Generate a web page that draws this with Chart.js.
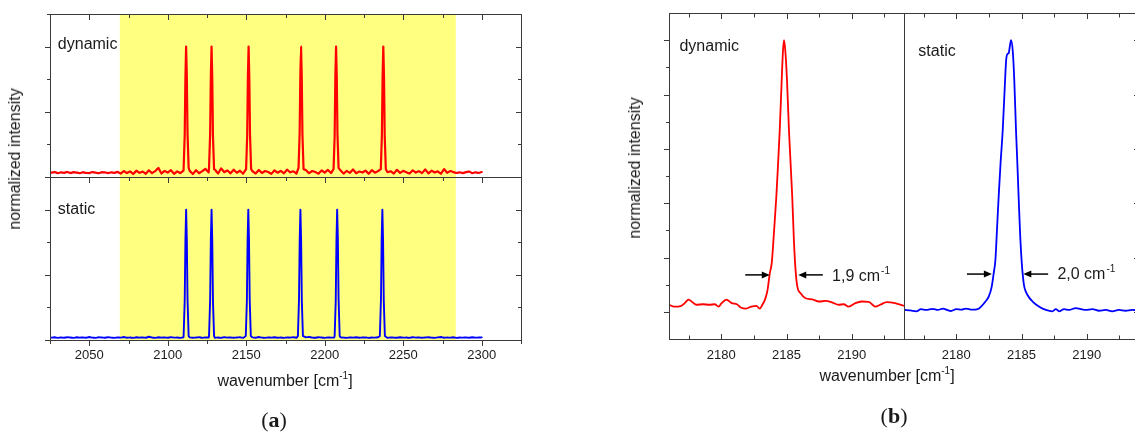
<!DOCTYPE html>
<html><head><meta charset="utf-8">
<script src="https://cdn.jsdelivr.net/npm/chart.js@4.4.1/dist/chart.umd.min.js"></script>
<style>
html,body{margin:0;padding:0;background:#fff;width:1135px;height:432px;overflow:hidden;position:relative;font-family:"Liberation Sans",Arial,sans-serif;color:#1a1a1a}
canvas{position:absolute}
.t{position:absolute;white-space:nowrap;font-size:16px;line-height:1}
.rot{transform:translate(-50%,-50%) rotate(-90deg)}
.ctr{transform:translate(-50%,-50%)}
sup{font-size:10px;vertical-align:0;position:relative;top:-7px}
.pl{font-family:"Liberation Serif","DejaVu Serif",serif;font-size:22px}
</style></head>
<body>
<canvas id="ca" width="560" height="400" style="left:0;top:0"></canvas>
<canvas id="cb" width="520" height="400" style="left:620px;top:0"></canvas>
<div class="t rot" style="left:15px;top:159px">normalized intensity</div>
<div class="t rot" style="left:635px;top:168px">normalized intensity</div>
<div class="t ctr" style="left:285px;top:381px">wavenumber [cm<sup>-1</sup>]</div>
<div class="t ctr" style="left:887px;top:376px">wavenumber [cm<sup>-1</sup>]</div>
<div class="t ctr pl" style="left:274px;top:420px">(<b>a</b>)</div>
<div class="t ctr pl" style="left:894px;top:416px">(<b>b</b>)</div>
<script>
// ---------- panel (a) data ----------
const aXTicks = [2025,2050,2075,2100,2125,2150,2175,2200,2225,2250,2275,2300,2325];
const aXLabels = [2050,2100,2150,2200,2250,2300];
const aYTicks = [0,0.25,0.5,0.75,1.0,1.25];
const aYMajor = [0,0.5,1.0];
const bandStart = 2069.5, bandEnd = 2283.5;
const baseStart = 2026, baseStep = 2;
const dynBase = [
 .033,.038,.029,.036,.032,.039,.030,.037,.034,.029,
 .037,.031,.030,.038,.033,.029,.037,.035,.030,.036,
 .031,.040,.026,.046,.030,.043,.023,.048,.032,.041,
 .025,.051,.030,.045,.070,.027,.047,.034,.053,.024,
 .043,.030,.049,.040,.047,.023,.052,.029,.045,.062,
 .034,.041,.058,.026,.066,.037,.050,.028,.056,.033,
 .048,.025,.052,.036,.044,.027,.054,.031,.046,.038,
 .024,.051,.033,.047,.028,.056,.036,.044,.026,.040,
 .033,.053,.029,.046,.038,.025,.050,.034,.055,.030,
 .044,.038,.051,.026,.047,.032,.058,.029,.042,.035,
 .049,.024,.053,.033,.046,.028,.052,.037,.044,.027,
 .055,.031,.047,.037,.026,.051,.034,.045,.030,.058,
 .028,.048,.035,.043,.025,.061,.032,.046,.037,.031,
 .036,.030,.037,.042,.029,.036,.031,.038];
const stBase = [
 .018,.021,.016,.020,.017,.022,.019,.016,.021,.018,
 .020,.017,.023,.018,.016,.021,.019,.017,.022,.018,
 .016,.020,.018,.023,.017,.019,.016,.021,.018,.020,
 .017,.025,.019,.016,.021,.018,.020,.017,.022,.018,
 .019,.016,.021,.018,.020,.017,.019,.022,.016,.020,
 .018,.021,.017,.019,.016,.022,.018,.020,.017,.019,
 .021,.016,.019,.018,.020,.017,.023,.018,.016,.020,
 .018,.021,.017,.019,.016,.020,.018,.022,.017,.019,
 .016,.020,.024,.018,.017,.021,.019,.016,.020,.018,
 .019,.017,.021,.018,.016,.020,.018,.021,.017,.019,
 .020,.016,.019,.018,.021,.017,.019,.016,.020,.018,
 .017,.021,.018,.019,.016,.022,.018,.020,.017,.019,
 .021,.018,.016,.020,.023,.017,.019,.018,.021,.016,
 .019,.018,.020,.017,.021,.018,.019,.020];
const dynPeaks = [
 [[2110.1,.06],[2110.8,.32],[2111.25,.76],[2111.7,1.0],[2112.15,.77],[2112.6,.33],[2113.3,.07]],
 [[2126.3,.07],[2127.0,.33],[2127.45,.77],[2127.9,1.0],[2128.35,.76],[2128.8,.31],[2129.5,.06]],
 [[2149.9,.06],[2150.6,.32],[2151.05,.77],[2151.5,1.0],[2151.95,.76],[2152.4,.32],[2153.1,.06]],
 [[2183.3,.07],[2184.0,.33],[2184.45,.77],[2184.9,1.0],[2185.35,.77],[2185.8,.32],[2186.5,.06]],
 [[2205.6,.06],[2206.3,.31],[2206.75,.76],[2207.2,1.0],[2207.65,.77],[2208.1,.33],[2208.8,.07]],
 [[2235.7,.06],[2236.4,.32],[2236.85,.77],[2237.3,1.0],[2237.75,.76],[2238.2,.31],[2238.9,.06]]];
const stPeaks = [
 [[2110.1,.03],[2110.8,.30],[2111.25,.76],[2111.7,1.0],[2112.15,.77],[2112.6,.31],[2113.3,.03]],
 [[2126.3,.03],[2127.0,.31],[2127.45,.77],[2127.9,1.0],[2128.35,.76],[2128.8,.30],[2129.5,.03]],
 [[2149.7,.03],[2150.4,.30],[2150.85,.76],[2151.3,1.0],[2151.75,.77],[2152.2,.31],[2152.9,.03]],
 [[2182.9,.03],[2183.6,.31],[2184.05,.77],[2184.5,1.0],[2184.95,.76],[2185.4,.30],[2186.1,.03]],
 [[2206.3,.03],[2207.0,.30],[2207.45,.76],[2207.9,1.0],[2208.35,.78],[2208.8,.32],[2209.5,.03]],
 [[2235.1,.03],[2235.8,.31],[2236.25,.77],[2236.7,1.0],[2237.15,.76],[2237.6,.30],[2238.3,.03]]];

// ---------- panel (b) data ----------
const bXTicks = [2177.5,2180,2182.5,2185,2187.5,2190,2192.5];
const bXLabels = [2180,2185,2190];
const bYTicks = [0,0.1,0.2,0.3,0.4,0.5,0.6,0.7,0.8,0.9,1.0];
const bDynX = [2176.0,2176.4,2176.9,2177.2,2177.5,2177.8,2178.1,2178.6,2179.1,2179.5,2179.8,2180.0,2180.4,2180.8,2181.2,2181.5,2181.9,2182.3,2182.7,2182.95,2183.15,2183.35,2183.55,2183.72,2183.87,2184.05,2184.22,2184.36,2184.48,2184.63,2184.73,2184.81,2184.91,2185.04,2185.19,2185.32,2185.44,2185.57,2185.70,2185.83,2186.08,2186.46,2186.97,2187.48,2187.99,2188.49,2189.0,2189.38,2189.76,2190.27,2190.77,2191.29,2191.8,2192.18,2192.68,2193.32,2194.0];
const bDynY = [.026,.019,.021,.032,.045,.035,.026,.028,.026,.028,.019,.030,.045,.032,.028,.016,.012,.019,.022,.012,.026,.045,.081,.142,.18,.30,.423,.55,.667,.85,.96,1.0,.96,.85,.667,.54,.423,.26,.15,.093,.068,.050,.046,.038,.040,.035,.026,.028,.019,.032,.038,.037,.019,.026,.036,.032,.022];
const bStX = [2176.05,2176.5,2176.95,2177.3,2177.7,2178.2,2178.6,2178.98,2179.3,2179.6,2180.0,2180.4,2180.75,2181.2,2181.65,2181.9,2182.24,2182.49,2182.72,2182.87,2183.0,2183.12,2183.25,2183.4,2183.56,2183.74,2183.82,2183.92,2184.02,2184.1,2184.2,2184.33,2184.45,2184.58,2184.68,2184.78,2184.9,2185.02,2185.12,2185.21,2185.46,2185.85,2186.36,2186.87,2187.37,2187.63,2187.88,2188.26,2188.64,2189.16,2189.54,2189.92,2190.43,2190.94,2191.45,2191.95,2192.46,2192.97,2193.48,2194.0];
const bStY = [.007,.005,.002,.010,.007,.011,.007,.012,.007,.003,.010,.008,.012,.008,.010,.019,.038,.056,.093,.142,.19,.30,.423,.55,.667,.85,.924,.949,.952,.975,1.0,.96,.85,.667,.55,.423,.28,.18,.125,.093,.062,.038,.019,.007,.002,.010,.002,.010,.007,.014,.010,.007,.010,.004,.007,.002,.007,.004,.007,.005];
const fwhm = {dyn:{text:'1,9', from:[2181.84,2183.72], to:[2187.78,2185.90], y:0.136, labelX:2188.49, labelY:0.115},
              st:{text:'2,0', from:[2180.82,2182.73], to:[2187.04,2185.14], y:0.139, labelX:2187.75, labelY:0.12}};

// ---------- helpers ----------
function mergeSeries(start, step, base, peaks){
  const pts = [];
  base.forEach((v,i)=>{ const x = start + i*step;
    if(!peaks.some(p => x >= p[0][0] && x <= p[p.length-1][0])) pts.push({x, y:v}); });
  peaks.forEach(p => p.forEach(([x,y]) => pts.push({x, y})));
  pts.sort((a,b)=>a.x-b.x);
  return pts;
}
const zip = (xs, ys) => xs.map((x,i)=>({x, y:ys[i]}));
const AX = '#3a3a3a';
const FONT = '"Liberation Sans", Arial, sans-serif';
Chart.defaults.font.family = FONT;
function seg(ctx,x1,y1,x2,y2){ ctx.beginPath(); ctx.moveTo(x1,y1); ctx.lineTo(x2,y2); ctx.stroke(); }
const cr = v => Math.round(v)+0.5;
const setTicks = arr => s => { s.ticks = arr.map(v=>({value:v})); };

// ---------- chart (a) ----------
const bandPlugin = { id:'band', beforeDatasetsDraw(chart){
  const {ctx, chartArea:ca, scales:{x}} = chart;
  ctx.save(); ctx.fillStyle = '#ffff80';
  const x1 = x.getPixelForValue(bandStart), x2 = x.getPixelForValue(bandEnd);
  ctx.fillRect(x1, ca.top, x2-x1, ca.height); ctx.restore(); } };
const frameA = { id:'frameA', afterDatasetsDraw(chart){
  const {ctx, chartArea:ca, scales:{x, yTop, yBot}} = chart;
  ctx.save(); ctx.strokeStyle = AX; ctx.lineWidth = 1;
  const L = cr(ca.left), R = cr(ca.right), T = cr(ca.top), B = cr(ca.bottom);
  const D = cr(yTop.getPixelForValue(0));
  ctx.strokeRect(L, T, R-L, B-T); seg(ctx, L, D, R, D);
  x.ticks.forEach(t => { const px = cr(x.getPixelForValue(t.value)); const len = aXLabels.includes(t.value) ? 5.5 : 3.5;
    seg(ctx, px, T, px, T+len); seg(ctx, px, D, px, D+len); seg(ctx, px, B, px, B+len); });
  [yTop, yBot].forEach(s => s.ticks.forEach(t => { const py = cr(s.getPixelForValue(t.value)); const len = aYMajor.includes(t.value) ? 5.5 : 3.5;
    seg(ctx, L-len, py, L, py); seg(ctx, R-len, py, R, py); }));
  ctx.fillStyle = '#1a1a1a'; ctx.font = '16px '+FONT; ctx.textBaseline = 'alphabetic';
  ctx.fillText('dynamic', x.getPixelForValue(2030), yTop.getPixelForValue(0.98));
  ctx.fillText('static', x.getPixelForValue(2030), yBot.getPixelForValue(0.97));
  ctx.restore(); } };
const yOptsA = () => ({ type:'linear', position:'left', stack:'a', stackWeight:1, min:0, max:1.25,
  afterBuildTicks:setTicks(aYTicks), afterFit(s){ s.width = 0; },
  ticks:{display:false}, grid:{display:false, drawTicks:false}, border:{display:false} });
new Chart(document.getElementById('ca'), {
  type:'line',
  data:{ datasets:[
    { label:'dynamic', data:mergeSeries(baseStart, baseStep, dynBase, dynPeaks), yAxisID:'yTop', xAxisID:'x', borderColor:'#ff0000', borderWidth:2.2, borderJoinStyle:'round', borderCapStyle:'round', pointRadius:0, tension:0.001, fill:false },
    { label:'static', data:mergeSeries(baseStart, baseStep, stBase, stPeaks), yAxisID:'yBot', xAxisID:'x', borderColor:'#0000ff', borderWidth:1.9, borderJoinStyle:'round', borderCapStyle:'round', pointRadius:0, tension:0.001, fill:false } ]},
  options:{ responsive:false, animation:false, events:[],
    layout:{ padding:{ left:50, right:39, top:14, bottom:0 } },
    plugins:{ legend:{display:false}, tooltip:{enabled:false} },
    scales:{
      x:{ type:'linear', position:'bottom', min:2025, max:2325, afterBuildTicks:setTicks(aXTicks), afterFit(s){ s.height = 60; },
          ticks:{ autoSkip:false, maxRotation:0, padding:8, color:'#1a1a1a', font:{size:13}, callback:v => aXLabels.includes(v) ? String(v) : '' },
          grid:{display:false, drawTicks:false}, border:{display:false} },
      yBot: yOptsA(),
      yTop: yOptsA()
    } },
  plugins:[bandPlugin, frameA]
});

// ---------- chart (b) ----------
function arrow(ctx, x1, x2, y){
  const dir = Math.sign(x2-x1), head = 8;
  ctx.lineWidth = 1.5; seg(ctx, x1, y, x2 - dir*head*0.6, y);
  ctx.beginPath(); ctx.moveTo(x2, y); ctx.lineTo(x2-dir*head, y-3.5); ctx.lineTo(x2-dir*head, y+3.5); ctx.closePath(); ctx.fill();
}
function supText(ctx, main, x, y){
  ctx.font = '16px '+FONT; ctx.fillText(main+' cm', x, y);
  const w = ctx.measureText(main+' cm').width;
  ctx.font = '10px '+FONT; ctx.fillText('-1', x+w+1, y-7);
}
const frameB = { id:'frameB', afterDatasetsDraw(chart){
  const {ctx, chartArea:ca, scales:{xL, xR, y}} = chart;
  ctx.save(); ctx.strokeStyle = AX; ctx.lineWidth = 1;
  const L = cr(ca.left), R = cr(ca.right), T = cr(ca.top), B = cr(ca.bottom), M = cr(xL.right);
  ctx.strokeRect(L, T, R-L, B-T); seg(ctx, M, T, M, B);
  [xL, xR].forEach(s => s.ticks.forEach(t => { const px = cr(s.getPixelForValue(t.value)); const len = bXLabels.includes(t.value) ? 5.5 : 4;
    seg(ctx, px, T, px, T+len); seg(ctx, px, B, px, B-len); }));
  y.ticks.forEach(t => { const py = cr(y.getPixelForValue(t.value)); const len = Math.round(t.value*10)%2===0 ? 5.5 : 3.5;
    seg(ctx, L-len, py, L, py); seg(ctx, R-len, py, R, py); });
  ctx.fillStyle = '#1a1a1a'; ctx.strokeStyle = '#000'; ctx.textBaseline = 'alphabetic';
  ctx.font = '16px '+FONT;
  ctx.fillText('dynamic', xL.getPixelForValue(2176.8), y.getPixelForValue(0.96));
  ctx.fillText('static', xR.getPixelForValue(2177.1), y.getPixelForValue(0.94));
  ctx.fillStyle = '#000';
  [[fwhm.dyn, xL], [fwhm.st, xR]].forEach(([f, s]) => {
    const py = y.getPixelForValue(f.y);
    arrow(ctx, s.getPixelForValue(f.from[0]), s.getPixelForValue(f.from[1]), py);
    arrow(ctx, s.getPixelForValue(f.to[0]), s.getPixelForValue(f.to[1]), py);
    ctx.fillStyle = '#1a1a1a'; supText(ctx, f.text, s.getPixelForValue(f.labelX), y.getPixelForValue(f.labelY)); ctx.fillStyle = '#000';
  });
  ctx.restore(); } };
const xOptsB = () => ({ type:'linear', position:'bottom', stack:'b', stackWeight:1, min:2176, max:2194,
  afterBuildTicks:setTicks(bXTicks), afterFit(s){ s.height = 61; },
  ticks:{ autoSkip:false, maxRotation:0, padding:9, color:'#1a1a1a', font:{size:13}, callback:v => bXLabels.includes(v) ? String(v) : '' },
  grid:{display:false, drawTicks:false}, border:{display:false} });
new Chart(document.getElementById('cb'), {
  type:'line',
  data:{ datasets:[
    { label:'dynamic', data:zip(bDynX, bDynY), xAxisID:'xL', yAxisID:'y', borderColor:'#ff0000', borderWidth:1.8, borderJoinStyle:'round', pointRadius:0, cubicInterpolationMode:'monotone', fill:false },
    { label:'static', data:zip(bStX, bStY), xAxisID:'xR', yAxisID:'y', borderColor:'#0000ff', borderWidth:1.8, borderJoinStyle:'round', pointRadius:0, cubicInterpolationMode:'monotone', fill:false } ]},
  options:{ responsive:false, animation:false, events:[],
    layout:{ padding:{ left:49, right:1, top:13, bottom:0 } },
    plugins:{ legend:{display:false}, tooltip:{enabled:false} },
    scales:{
      xL: xOptsB(),
      xR: xOptsB(),
      y:{ type:'linear', position:'left', min:-0.1, max:1.1, afterBuildTicks:setTicks(bYTicks), afterFit(s){ s.width = 0; },
          ticks:{display:false}, grid:{display:false, drawTicks:false}, border:{display:false} }
    } },
  plugins:[frameB]
});
</script>
</body></html>
